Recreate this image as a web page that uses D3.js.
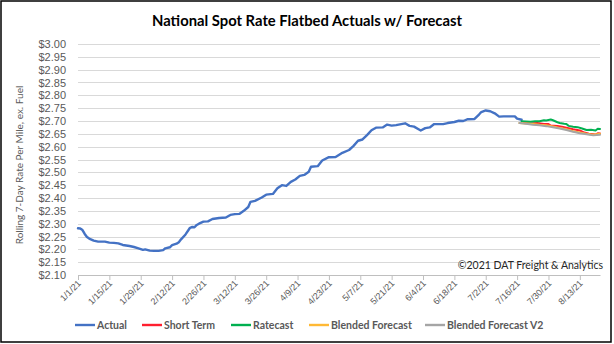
<!DOCTYPE html>
<html>
<head>
<meta charset="utf-8">
<script src="https://cdn.jsdelivr.net/npm/d3@7"></script>
<style>
  body { margin: 0; background: #fff; }
  svg { display: block; font-family: Lato, "Open Sans", sans-serif; }
</style>
</head>
<body>
<div class="chart"></div>
<script>
// National spot rate, flatbed: actuals plus forecast series
var svgWidth = 614;
var svgHeight = 344;

var margin = {
  top: 44,
  right: 14,
  bottom: 69,
  left: 78
};

var width = svgWidth - margin.left - margin.right;
var height = svgHeight - margin.top - margin.bottom;

// Actual (rolling 7-day rate)
var actualDates = ["1/1/21","1/2/21","1/3/21","1/4/21","1/5/21","1/6/21","1/8/21","1/10/21","1/13/21","1/15/21",
  "1/17/21","1/19/21","1/21/21","1/24/21","1/26/21","1/28/21","1/30/21","1/31/21","2/2/21","2/4/21",
  "2/6/21","2/8/21","2/9/21","2/11/21","2/12/21","2/14/21","2/15/21","2/16/21","2/18/21","2/20/21",
  "2/21/21","2/22/21","2/23/21","2/24/21","2/26/21","2/28/21","3/2/21","3/5/21","3/8/21","3/10/21",
  "3/12/21","3/14/21","3/16/21","3/18/21","3/19/21","3/21/21","3/24/21","3/26/21","3/29/21","3/31/21",
  "4/2/21","4/4/21","4/6/21","4/8/21","4/10/21","4/12/21","4/14/21","4/15/21","4/18/21","4/20/21",
  "4/23/21","4/26/21","4/29/21","5/2/21","5/4/21","5/6/21","5/8/21","5/10/21","5/12/21","5/14/21",
  "5/17/21","5/19/21","5/21/21","5/23/21","5/27/21","5/29/21","5/31/21","6/2/21","6/3/21","6/5/21",
  "6/7/21","6/9/21","6/13/21","6/15/21","6/18/21","6/20/21","6/22/21","6/24/21","6/27/21","6/29/21",
  "6/30/21","7/2/21","7/4/21","7/6/21","7/8/21","7/10/21","7/15/21","7/16/21","7/18/21"];
var actualValues = [2.282,2.281,2.275,2.260,2.248,2.242,2.234,2.230,2.230,2.226,
  2.225,2.223,2.217,2.213,2.209,2.204,2.198,2.200,2.195,2.194,
  2.194,2.197,2.204,2.208,2.216,2.222,2.228,2.239,2.258,2.284,
  2.287,2.286,2.295,2.300,2.308,2.309,2.318,2.322,2.324,2.334,
  2.337,2.338,2.350,2.365,2.385,2.389,2.402,2.413,2.416,2.438,
  2.450,2.447,2.463,2.472,2.486,2.490,2.502,2.522,2.524,2.546,
  2.559,2.560,2.576,2.587,2.603,2.623,2.628,2.645,2.664,2.674,
  2.675,2.686,2.682,2.684,2.691,2.681,2.678,2.668,2.663,2.672,
  2.675,2.688,2.688,2.692,2.696,2.701,2.700,2.707,2.708,2.725,
  2.735,2.741,2.738,2.730,2.717,2.718,2.718,2.709,2.705];

// Short Term
var shortTermDates = ["7/19/21","7/22/21","7/25/21","7/28/21","7/30/21","7/31/21","8/3/21","8/5/21","8/7/21",
  "8/8/21","8/10/21","8/13/21","8/15/21","8/17/21","8/20/21","8/21/21","8/22/21"];
var shortTermValues = [2.692,2.690,2.692,2.688,2.688,2.682,2.681,2.678,2.674,
  2.672,2.668,2.663,2.655,2.650,2.647,2.652,2.651];

// Ratecast
var ratecastDates = ["7/18/21","7/22/21","7/24/21","7/26/21","7/28/21","7/29/21","7/31/21","8/1/21","8/3/21",
  "8/4/21","8/6/21","8/7/21","8/8/21","8/10/21","8/12/21","8/14/21","8/16/21","8/18/21","8/20/21","8/21/21","8/22/21"];
var ratecastValues = [2.699,2.697,2.699,2.699,2.703,2.702,2.706,2.703,2.695,
  2.692,2.689,2.688,2.681,2.678,2.676,2.671,2.665,2.666,2.663,2.670,2.669];

// Blended Forecast and Blended Forecast V2 share dates
var blendedDates = ["7/17/21","7/20/21","7/23/21","7/26/21","7/29/21","8/1/21","8/4/21","8/7/21","8/10/21",
  "8/13/21","8/16/21","8/19/21","8/22/21"];
var blendedValues = [2.692,2.690,2.688,2.685,2.683,2.679,2.673,2.668,2.660,2.655,2.650,2.646,2.650];
var blendedV2Values = [2.692,2.689,2.685,2.683,2.680,2.676,2.671,2.665,2.658,2.652,2.648,2.644,2.646];

// x-axis labels, every two weeks
var tickLabels = ["1/1/21","1/15/21","1/29/21","2/12/21","2/26/21","3/12/21","3/26/21","4/9/21","4/23/21",
  "5/7/21","5/21/21","6/4/21","6/18/21","7/2/21","7/16/21","7/30/21","8/13/21"];
var yTicks = [2.10,2.15,2.20,2.25,2.30,2.35,2.40,2.45,2.50,2.55,2.60,2.65,2.70,2.75,2.80,2.85,2.90,2.95,3.00];

var parseDate = d3.timeParse("%m/%d/%y");
var formatDate = d3.timeFormat("%-m/%-d/%y");

function toPoints(dates, values) {
  return dates.map(function (d, i) {
    return { date: parseDate(d), value: values[i] };
  });
}

var seriesList = [
  { name: "Actual", color: "#4472C4", width: 2.4, data: toPoints(actualDates, actualValues) },
  { name: "Short Term", color: "#FF1F2F", width: 2, data: toPoints(shortTermDates, shortTermValues) },
  { name: "Ratecast", color: "#00B050", width: 2, data: toPoints(ratecastDates, ratecastValues) },
  { name: "Blended Forecast", color: "#FFB935", width: 2, data: toPoints(blendedDates, blendedValues) },
  { name: "Blended Forecast V2", color: "#A5A5A5", width: 2, data: toPoints(blendedDates, blendedV2Values) }
];

var svg = d3.select(".chart")
  .append("svg")
  .attr("width", svgWidth)
  .attr("height", svgHeight);

svg.append("rect")
  .attr("width", svgWidth)
  .attr("height", svgHeight)
  .attr("fill", "#fff");

// outer frame
svg.append("rect")
  .attr("x", 1)
  .attr("y", 1)
  .attr("width", 610)
  .attr("height", 341)
  .attr("fill", "none")
  .attr("stroke", "#000")
  .attr("stroke-width", 1.5);

var chartGroup = svg.append("g")
  .attr("transform", `translate(${margin.left}, ${margin.top})`);

var xScale = d3.scaleTime()
  .domain([parseDate("1/1/21"), parseDate("8/22/21")])
  .range([0, width]);

var yScale = d3.scaleLinear()
  .domain([2.10, 3.00])
  .range([height, 0]);

// horizontal gridlines
chartGroup.append("g")
  .selectAll("line")
  .data(yTicks.slice(1))
  .enter()
  .append("line")
  .attr("x1", 0)
  .attr("x2", width)
  .attr("y1", d => Math.round(yScale(d)) + 0.5)
  .attr("y2", d => Math.round(yScale(d)) + 0.5)
  .attr("stroke", "#d9d9d9")
  .attr("stroke-width", 1);

// y axis labels
var leftAxis = d3.axisLeft(yScale)
  .tickValues(yTicks)
  .tickFormat(d3.format("$.2f"))
  .tickSize(0)
  .tickPadding(12);

var yAxis = chartGroup.append("g").call(leftAxis);
yAxis.select(".domain").remove();
yAxis.selectAll("text")
  .attr("fill", "#595959")
  .style("font-size", "11px");

// bottom axis
var bottomAxis = d3.axisBottom(xScale)
  .tickValues(tickLabels.map(parseDate))
  .tickFormat(formatDate)
  .tickSizeInner(5)
  .tickSizeOuter(0);

var xAxis = chartGroup.append("g")
  .attr("transform", `translate(0, ${height})`)
  .call(bottomAxis);
xAxis.select(".domain").attr("stroke", "#bfbfbf");
xAxis.selectAll(".tick line").attr("stroke", "#bfbfbf");
xAxis.selectAll("text")
  .attr("fill", "#595959")
  .style("font-size", "9px")
  .attr("text-anchor", "end")
  .attr("dy", null)
  .attr("y", 0)
  .attr("transform", "translate(3, 9) rotate(-45)");

// series lines
var line = d3.line()
  .x(d => xScale(d.date))
  .y(d => yScale(d.value));

chartGroup.selectAll(".series")
  .data(seriesList)
  .enter()
  .append("path")
  .attr("class", "series")
  .attr("fill", "none")
  .attr("stroke", d => d.color)
  .attr("stroke-width", d => d.width)
  .attr("stroke-linejoin", "round")
  .attr("stroke-linecap", "round")
  .attr("d", d => line(d.data));

// title
svg.append("text")
  .attr("x", 307)
  .attr("y", 26)
  .attr("text-anchor", "middle")
  .attr("fill", "#000")
  .style("font-size", "15px")
  .style("font-weight", "bold")
  .attr("textLength", 310)
  .attr("lengthAdjust", "spacingAndGlyphs")
  .text("National Spot Rate Flatbed Actuals w/ Forecast");

// y axis title
svg.append("text")
  .attr("transform", "translate(23, 165) rotate(-90)")
  .attr("text-anchor", "middle")
  .attr("fill", "#595959")
  .style("font-size", "10px")
  .text("Rolling 7-Day Rate Per Mile, ex. Fuel");

// copyright note
svg.append("text")
  .attr("x", 603)
  .attr("y", 269)
  .attr("text-anchor", "end")
  .attr("fill", "#262626")
  .style("font-size", "10.5px")
  .text("\u00a92021 DAT Freight & Analytics");

// legend
var legendX = [75, 142, 231, 309, 425];
var legend = svg.append("g")
  .selectAll("g")
  .data(seriesList)
  .enter()
  .append("g")
  .attr("transform", (d, i) => `translate(${legendX[i]}, 325)`);

legend.append("line")
  .attr("x1", 0)
  .attr("x2", 20)
  .attr("y1", 0)
  .attr("y2", 0)
  .attr("stroke", d => d.color)
  .attr("stroke-width", 2.4);

legend.append("text")
  .attr("x", 22)
  .attr("y", 4)
  .attr("fill", "#595959")
  .style("font-size", "10.5px")
  .style("font-weight", "bold")
  .text(d => d.name);
</script>
</body>
</html>
